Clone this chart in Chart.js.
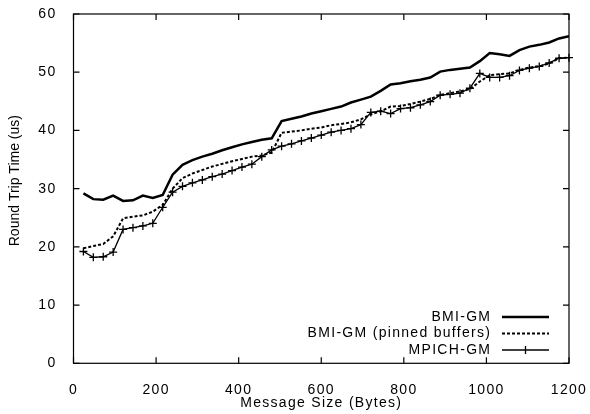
<!DOCTYPE html>
<html>
<head>
<meta charset="utf-8">
<script src="https://cdn.jsdelivr.net/npm/chart.js@4.4.1/dist/chart.umd.min.js"></script>
<style>
    body { margin: 0; background: #fff; }
    #chart { display: block; }
</style>
</head>
<body>
<canvas id="chart" width="590" height="414"></canvas>
<script>
// message sizes in bytes (x)
const sizes = [24, 48, 72, 96, 120, 144, 168, 192, 216, 240,
    264, 288, 312, 336, 360, 384, 408, 432, 456, 480,
    504, 528, 552, 576, 600, 624, 648, 672, 696, 720,
    744, 768, 792, 816, 840, 864, 888, 912, 936, 960,
    984, 1008, 1032, 1056, 1080, 1104, 1128, 1152, 1176, 1200];

// round trip times in us
const bmiGm = [29.2, 28.2, 28.1, 28.8, 27.9, 28.0, 28.8, 28.4, 28.9, 32.4,
    34.1, 34.9, 35.5, 36.0, 36.6, 37.1, 37.6, 38.0, 38.4, 38.65,
    41.6, 42.0, 42.4, 42.9, 43.3, 43.7, 44.1, 44.8, 45.3, 45.8,
    46.8, 47.9, 48.1, 48.45, 48.7, 49.1, 50.1, 50.4, 50.6, 50.8,
    51.9, 53.3, 53.1, 52.8, 53.8, 54.4, 54.7, 55.1, 55.8, 56.2];

const bmiGmPinned = [19.75, 20.15, 20.5, 21.8, 24.9, 25.2, 25.4, 26.05, 27.2, 30.0,
    31.8, 32.6, 33.2, 33.8, 34.25, 34.7, 35.1, 35.5, 35.7, 36.2,
    39.6, 39.8, 40.0, 40.3, 40.5, 40.9, 41.1, 41.4, 41.9, 42.75,
    43.3, 44.1, 44.2, 44.55, 44.95, 45.4, 46.1, 46.4, 46.7, 47.1,
    48.4, 49.5, 49.65, 49.8, 50.4, 50.8, 51.0, 51.5, 52.4, 52.5];

const mpichGm = [19.2, 18.2, 18.3, 19.1, 23.0, 23.3, 23.6, 24.05, 26.8, 29.4,
    30.4, 31.0, 31.5, 32.05, 32.5, 33.1, 33.7, 34.2, 35.5, 36.65,
    37.3, 37.7, 38.2, 38.7, 39.2, 39.7, 40.0, 40.3, 41.0, 43.1,
    43.3, 42.9, 43.75, 43.9, 44.4, 44.95, 46.05, 46.2, 46.4, 47.25,
    49.8, 49.1, 49.1, 49.4, 50.3, 50.7, 51.0, 51.6, 52.4, 52.5];

const seriesNames = ['BMI-GM', 'BMI-GM (pinned buffers)', 'MPICH-GM'];
const xTicks = [0, 200, 400, 600, 800, 1000, 1200];
const yTicks = [0, 10, 20, 30, 40, 50, 60];

const FONT = '"Liberation Sans", Arial, Helvetica, sans-serif';
const SPACING = 1.3; // the original text is stretched sideways

function toPoints(values) {
    return sizes.map((s, i) => ({ x: s, y: values[i] }));
}

const spacingPlugin = {
    id: 'spacing',
    beforeDraw(chart) {
        chart.ctx.letterSpacing = SPACING + 'px';
    }
};

// rotated y title is not stretched, and sits a bit above the middle
function plainYTitle(scale) {
    if (scale._plainTitle) return;
    scale._plainTitle = true;
    const orig = scale.drawTitle;
    scale.drawTitle = function () {
        const c = this.ctx;
        c.save();
        c.letterSpacing = '0px';
        c.translate(0, -8);
        orig.call(this);
        c.restore();
    };
}

// gnuplot style box with inward ticks on all sides
const framePlugin = {
    id: 'frame',
    afterDraw(chart) {
        const { ctx, chartArea: a, scales } = chart;
        const len = 6;
        ctx.save();
        ctx.strokeStyle = '#000';
        ctx.lineWidth = 1.2;
        ctx.strokeRect(a.left, a.top, a.right - a.left, a.bottom - a.top);
        ctx.beginPath();
        xTicks.forEach(v => {
            const px = scales.x.getPixelForValue(v);
            ctx.moveTo(px, a.bottom); ctx.lineTo(px, a.bottom - len);
            ctx.moveTo(px, a.top); ctx.lineTo(px, a.top + len);
        });
        yTicks.forEach(v => {
            const py = scales.y.getPixelForValue(v);
            ctx.moveTo(a.left, py); ctx.lineTo(a.left + len, py);
            ctx.moveTo(a.right, py); ctx.lineTo(a.right - len, py);
        });
        ctx.stroke();
        ctx.restore();
    }
};

// legend in the lower right, text right aligned before the sample line
const keyPlugin = {
    id: 'key',
    afterDraw(chart) {
        const { ctx } = chart;
        const textRight = 490;
        const x0 = 502, x1 = 549;
        const rows = [317, 333.5, 350];
        ctx.save();
        ctx.font = '14px ' + FONT;
        ctx.letterSpacing = SPACING + 'px';
        ctx.fillStyle = '#000';
        ctx.textAlign = 'right';
        ctx.textBaseline = 'middle';
        chart.data.datasets.forEach((ds, i) => {
            const y = rows[i];
            ctx.fillText(ds.label, textRight + SPACING, y);
            ctx.strokeStyle = ds.borderColor;
            ctx.lineWidth = ds.borderWidth;
            ctx.setLineDash(ds.borderDash || []);
            ctx.beginPath();
            ctx.moveTo(x0, y); ctx.lineTo(x1, y);
            ctx.stroke();
            ctx.setLineDash([]);
            if (ds.pointRadius > 0) {
                const cx = (x0 + x1) / 2, r = ds.pointRadius;
                ctx.lineWidth = ds.pointBorderWidth;
                ctx.beginPath();
                ctx.moveTo(cx, y - r); ctx.lineTo(cx, y + r);
                ctx.stroke();
            }
        });
        ctx.restore();
    }
};

const ctx = document.getElementById('chart').getContext('2d');
const chart = new Chart(ctx, {
    type: 'line',
    data: {
        datasets: [{
            label: seriesNames[0],
            data: toPoints(bmiGm),
            borderColor: '#000',
            borderWidth: 2.5,
            pointRadius: 0,
            tension: 0
        }, {
            label: seriesNames[1],
            data: toPoints(bmiGmPinned),
            borderColor: '#000',
            borderWidth: 2,
            borderDash: [3, 2],
            pointRadius: 0,
            tension: 0
        }, {
            label: seriesNames[2],
            data: toPoints(mpichGm),
            borderColor: '#000',
            borderWidth: 1.3,
            pointStyle: 'cross',
            pointRadius: 4,
            pointBorderWidth: 1.3,
            pointBorderColor: '#000',
            tension: 0,
            clip: 8
        }]
    },
    options: {
        responsive: false,
        animation: false,
        devicePixelRatio: 1,
        layout: { padding: { top: 14, right: 21, left: 0, bottom: 0 } },
        plugins: {
            legend: { display: false },
            tooltip: { enabled: false }
        },
        scales: {
            x: {
                type: 'linear',
                min: 0,
                max: 1200,
                afterFit: s => {
                    s.height = 50.7;
                    s.paddingLeft = 0;
                    s.paddingRight = 0;
                },
                afterBuildTicks: s => { s.ticks = xTicks.map(v => ({ value: v })); },
                grid: { display: false },
                border: { display: false },
                ticks: {
                    color: '#000',
                    padding: 10,
                    maxRotation: 0,
                    font: { family: FONT, size: 14 },
                    callback: v => String(v)
                },
                title: {
                    display: true,
                    text: 'Message Size (Bytes)',
                    color: '#000',
                    font: { family: FONT, size: 14 },
                    padding: { top: 0, bottom: 2 }
                }
            },
            y: {
                min: 0,
                max: 60,
                afterFit: s => {
                    s.width = 73.5;
                    s.paddingTop = 0;
                    s.paddingBottom = 0;
                },
                afterUpdate: plainYTitle,
                afterBuildTicks: s => { s.ticks = yTicks.map(v => ({ value: v })); },
                grid: { display: false },
                border: { display: false },
                ticks: {
                    color: '#000',
                    padding: 9,
                    font: { family: FONT, size: 14 },
                    callback: v => String(v)
                },
                title: {
                    display: true,
                    text: 'Round Trip Time (us)',
                    color: '#000',
                    font: { family: FONT, size: 14 },
                    padding: { top: 7, bottom: 0 }
                }
            }
        }
    },
    plugins: [spacingPlugin, framePlugin, keyPlugin]
});
</script>
</body>
</html>
